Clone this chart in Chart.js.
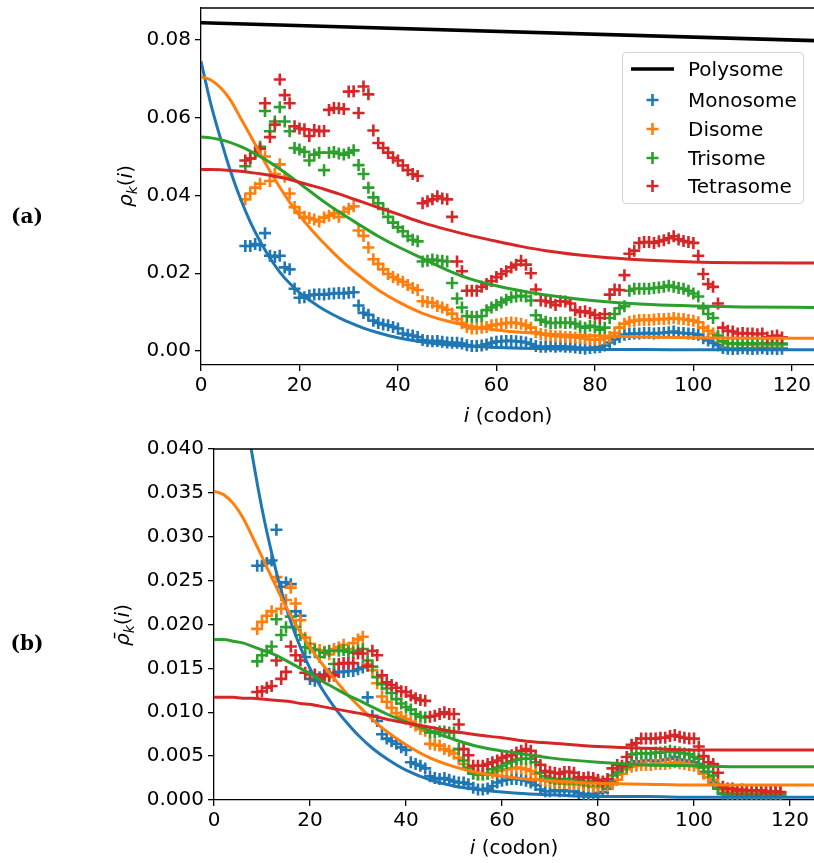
<!DOCTYPE html>
<html>
<head>
<meta charset="utf-8">
<script src="https://cdn.jsdelivr.net/npm/chart.js@4.4.1/dist/chart.umd.min.js"></script>
<style>
  body { margin: 0; background: #fff; width: 814px; height: 863px; position: relative; overflow: hidden; font-family: 'DejaVu Sans', sans-serif; }
  canvas { position: absolute; left: 0; }
  .lbl { position: absolute; transform: translate(-50%, -50%); font-size: 20px; white-space: nowrap; color: #000; }
  .rot { transform: translate(-50%, -50%) rotate(-90deg); }
  .tag { font-family: 'DejaVu Serif', serif; font-weight: bold; }
  .legend { position: absolute; left: 622px; top: 52px; width: 182px; height: 152px; box-sizing: border-box;
            border: 1px solid #d3d3d3; border-radius: 4px; background: rgba(255,255,255,0.8); }
  .legend .row { position: absolute; left: 0; height: 24px; width: 180px; }
  .legend svg { position: absolute; left: 6px; top: 0; }
  .legend span { position: absolute; left: 65px; top: 50%; transform: translateY(-50%); font-size: 20px; }
  sub { font-size: 14px; }
</style>
</head>
<body>
<canvas id="chartA" width="814" height="430" style="top:0"></canvas>
<canvas id="chartB" width="814" height="433" style="top:430px"></canvas>

<div class="lbl tag" style="left:27px; top:216px">(a)</div>
<div class="lbl tag" style="left:27px; top:643px">(b)</div>
<div class="lbl rot" style="left:126px; top:186px"><i>ρ</i><sub><i>k</i></sub>(<i>i</i>)</div>
<div class="lbl rot" style="left:123px; top:625px"><i>ρ̄</i><sub><i>k</i></sub>(<i>i</i>)</div>
<div class="lbl" style="left:508px; top:415px"><i>i</i> (codon)</div>
<div class="lbl" style="left:514px; top:847px"><i>i</i> (codon)</div>

<div class="legend">
  <div class="row" style="top:4px"><svg width="50" height="24"><line x1="2" y1="12" x2="45" y2="12" stroke="#000" stroke-width="3.6"/></svg><span>Polysome</span></div>
  <div class="row" style="top:35px"><svg width="50" height="24"><path d="M23.5 6V18M17.5 12H29.5" stroke="#1f77b4" stroke-width="2.6"/></svg><span>Monosome</span></div>
  <div class="row" style="top:64px"><svg width="50" height="24"><path d="M23.5 6V18M17.5 12H29.5" stroke="#ff7f0e" stroke-width="2.6"/></svg><span>Disome</span></div>
  <div class="row" style="top:93px"><svg width="50" height="24"><path d="M23.5 6V18M17.5 12H29.5" stroke="#2ca02c" stroke-width="2.6"/></svg><span>Trisome</span></div>
  <div class="row" style="top:121px"><svg width="50" height="24"><path d="M23.5 6V18M17.5 12H29.5" stroke="#d62728" stroke-width="2.6"/></svg><span>Tetrasome</span></div>
</div>

<script>
// codon positions of the measured points
const codons = [
  9, 10, 11, 12, 13, 14, 15, 16, 17, 18,
  19, 20, 21, 22, 23, 24, 25, 26, 27, 28,
  29, 30, 31, 32, 33, 34, 35, 36, 37, 38,
  39, 40, 41, 42, 43, 44, 45, 46, 47, 48,
  49, 50, 51, 52, 53, 54, 55, 56, 57, 58,
  59, 60, 61, 62, 63, 64, 65, 66, 67, 68,
  69, 70, 71, 72, 73, 74, 75, 76, 77, 78,
  79, 80, 81, 82, 83, 84, 85, 86, 87, 88,
  89, 90, 91, 92, 93, 94, 95, 96, 97, 98,
  99, 100, 101, 102, 103, 104, 105, 106, 107, 108,
  109, 110, 111, 112, 113, 114, 115, 116, 117, 118
];

// panel (a): rho_k(i)
const monoA = [
  0.0270, 0.0270, 0.0275, 0.0272, 0.0303, 0.0245, 0.0242, 0.0245, 0.0215, 0.0210,
  0.0160, 0.0137, 0.0138, 0.0143, 0.0145, 0.0146, 0.0145, 0.0147, 0.0148, 0.0149,
  0.0148, 0.0150, 0.0151, 0.0117, 0.0098, 0.0093, 0.0078, 0.0072, 0.0068, 0.0066,
  0.0062, 0.0058, 0.0045, 0.0042, 0.0040, 0.0036, 0.0028, 0.0026, 0.0025, 0.0026,
  0.0024, 0.0022, 0.0021, 0.0021, 0.0019, 0.0015, 0.0013, 0.0013, 0.0014, 0.0017,
  0.0021, 0.0024, 0.0025, 0.0026, 0.0026, 0.0025, 0.0024, 0.0022, 0.0018, 0.0013,
  0.0011, 0.0011, 0.0012, 0.0011, 0.0012, 0.0011, 0.0011, 0.0009, 0.0008, 0.0006,
  0.0008, 0.0009, 0.0010, 0.0014, 0.0022, 0.0030, 0.0036, 0.0042, 0.0044, 0.0045,
  0.0045, 0.0046, 0.0046, 0.0045, 0.0046, 0.0047, 0.0048, 0.0050, 0.0047, 0.0046,
  0.0045, 0.0044, 0.0042, 0.0033, 0.0027, 0.0021, 0.0015, 0.0008, 0.0006, 0.0005,
  0.0006, 0.0007, 0.0006, 0.0005, 0.0006, 0.0007, 0.0005, 0.0006, 0.0005, 0.0006
];
const diA = [
  0.0390, 0.0405, 0.0420, 0.0430, 0.0500, 0.0437, 0.0455, 0.0480, 0.0448, 0.0405,
  0.0370, 0.0355, 0.0345, 0.0342, 0.0338, 0.0333, 0.0343, 0.0348, 0.0354, 0.0345,
  0.0358, 0.0366, 0.0372, 0.0310, 0.0296, 0.0266, 0.0236, 0.0224, 0.0210, 0.0198,
  0.0190, 0.0184, 0.0178, 0.0170, 0.0162, 0.0157, 0.0128, 0.0126, 0.0124, 0.0116,
  0.0112, 0.0106, 0.0096, 0.0082, 0.0072, 0.0062, 0.0058, 0.0058, 0.0060, 0.0062,
  0.0066, 0.0068, 0.0070, 0.0072, 0.0073, 0.0072, 0.0070, 0.0066, 0.0060, 0.0048,
  0.0044, 0.0042, 0.0040, 0.0038, 0.0038, 0.0036, 0.0036, 0.0035, 0.0034, 0.0032,
  0.0030, 0.0030, 0.0030, 0.0032, 0.0036, 0.0046, 0.0060, 0.0070, 0.0075, 0.0078,
  0.0080, 0.0080, 0.0080, 0.0081, 0.0082, 0.0082, 0.0083, 0.0085, 0.0083, 0.0082,
  0.0080, 0.0078, 0.0074, 0.0060, 0.0052, 0.0045, 0.0036, 0.0024, 0.0020, 0.0018,
  0.0018, 0.0016, 0.0017, 0.0016, 0.0015, 0.0016, 0.0015, 0.0016, 0.0015, 0.0016
];
const triA = [
  0.0475, 0.0495, 0.0510, 0.0525, 0.0617, 0.0565, 0.0590, 0.0627, 0.0590, 0.0565,
  0.0522, 0.0518, 0.0512, 0.0490, 0.0505, 0.0510, 0.0465, 0.0510, 0.0512, 0.0508,
  0.0505, 0.0510, 0.0516, 0.0478, 0.0455, 0.0420, 0.0395, 0.0380, 0.0365, 0.0345,
  0.0330, 0.0318, 0.0308, 0.0295, 0.0286, 0.0282, 0.0230, 0.0232, 0.0235, 0.0233,
  0.0232, 0.0230, 0.0175, 0.0135, 0.0112, 0.0090, 0.0088, 0.0088, 0.0090, 0.0105,
  0.0112, 0.0118, 0.0125, 0.0132, 0.0138, 0.0140, 0.0142, 0.0140, 0.0130, 0.0092,
  0.0080, 0.0075, 0.0072, 0.0072, 0.0073, 0.0072, 0.0073, 0.0070, 0.0063, 0.0060,
  0.0065, 0.0062, 0.0055, 0.0060, 0.0085, 0.0095, 0.0110, 0.0115, 0.0155, 0.0160,
  0.0160, 0.0160, 0.0160, 0.0162, 0.0163, 0.0165, 0.0168, 0.0165, 0.0162, 0.0160,
  0.0155, 0.0148, 0.0140, 0.0110, 0.0095, 0.0085, 0.0040, 0.0025, 0.0020, 0.0020,
  0.0019, 0.0020, 0.0020, 0.0019, 0.0020, 0.0020, 0.0019, 0.0020, 0.0020, 0.0019
];
const tetraA = [
  0.0490, 0.0495, 0.0510, 0.0520, 0.0637, 0.0550, 0.0582, 0.0698, 0.0658, 0.0637,
  0.0578, 0.0572, 0.0570, 0.0553, 0.0568, 0.0565, 0.0566, 0.0620, 0.0625, 0.0624,
  0.0622, 0.0667, 0.0668, 0.0612, 0.0680, 0.0660, 0.0567, 0.0535, 0.0522, 0.0510,
  0.0497, 0.0490, 0.0477, 0.0465, 0.0455, 0.0450, 0.0380, 0.0385, 0.0390, 0.0398,
  0.0392, 0.0390, 0.0345, 0.0230, 0.0205, 0.0155, 0.0155, 0.0155, 0.0165, 0.0172,
  0.0180, 0.0190, 0.0198, 0.0205, 0.0215, 0.0222, 0.0232, 0.0222, 0.0200, 0.0158,
  0.0130, 0.0128, 0.0125, 0.0118, 0.0128, 0.0127, 0.0122, 0.0105, 0.0100, 0.0102,
  0.0098, 0.0093, 0.0085, 0.0095, 0.0145, 0.0158, 0.0157, 0.0195, 0.0250, 0.0258,
  0.0278, 0.0280, 0.0280, 0.0278, 0.0282, 0.0285, 0.0290, 0.0295, 0.0287, 0.0283,
  0.0280, 0.0278, 0.0245, 0.0198, 0.0172, 0.0165, 0.0122, 0.0060, 0.0052, 0.0050,
  0.0045, 0.0046, 0.0045, 0.0045, 0.0043, 0.0045, 0.0035, 0.0038, 0.0040, 0.0035
];

// panel (b): rho-bar_k(i)
const monoB = [
  0.0267, 0.0267, 0.0270, 0.0273, 0.0308, 0.0243, 0.0248, 0.0246, 0.0215, 0.0210,
  0.0163, 0.0138, 0.0136, 0.0140, 0.0143, 0.0144, 0.0145, 0.0146, 0.0146, 0.0147,
  0.0147, 0.0149, 0.0151, 0.0117, 0.0096, 0.0090, 0.0075, 0.0070, 0.0067, 0.0064,
  0.0060, 0.0057, 0.0043, 0.0041, 0.0039, 0.0036, 0.0027, 0.0025, 0.0024, 0.0025,
  0.0023, 0.0021, 0.0020, 0.0020, 0.0018, 0.0014, 0.0012, 0.0012, 0.0013, 0.0016,
  0.0020, 0.0022, 0.0023, 0.0024, 0.0024, 0.0023, 0.0022, 0.0020, 0.0017, 0.0012,
  0.0010, 0.0010, 0.0011, 0.0010, 0.0011, 0.0010, 0.0010, 0.0008, 0.0007, 0.0005,
  0.0007, 0.0008, 0.0009, 0.0013, 0.0021, 0.0029, 0.0035, 0.0041, 0.0043, 0.0044,
  0.0044, 0.0045, 0.0045, 0.0044, 0.0045, 0.0046, 0.0047, 0.0049, 0.0046, 0.0045,
  0.0044, 0.0043, 0.0041, 0.0032, 0.0026, 0.0020, 0.0014, 0.0007, 0.0005, 0.0004,
  0.0005, 0.0006, 0.0005, 0.0004, 0.0005, 0.0006, 0.0004, 0.0005, 0.0004, 0.0005
];
const diB = [
  0.0195, 0.0203, 0.0210, 0.0215, 0.0254, 0.0218, 0.0228, 0.0242, 0.0224, 0.0205,
  0.0185, 0.0178, 0.0172, 0.0171, 0.0169, 0.0166, 0.0172, 0.0174, 0.0177, 0.0172,
  0.0179, 0.0183, 0.0186, 0.0155, 0.0148, 0.0133, 0.0118, 0.0112, 0.0105, 0.0099,
  0.0095, 0.0092, 0.0089, 0.0085, 0.0081, 0.0079, 0.0064, 0.0063, 0.0062, 0.0058,
  0.0056, 0.0053, 0.0048, 0.0041, 0.0036, 0.0031, 0.0029, 0.0029, 0.0030, 0.0031,
  0.0033, 0.0034, 0.0035, 0.0036, 0.0037, 0.0036, 0.0035, 0.0033, 0.0030, 0.0024,
  0.0022, 0.0021, 0.0020, 0.0019, 0.0019, 0.0018, 0.0018, 0.0018, 0.0017, 0.0016,
  0.0015, 0.0015, 0.0015, 0.0016, 0.0018, 0.0023, 0.0030, 0.0035, 0.0038, 0.0039,
  0.0040, 0.0040, 0.0040, 0.0041, 0.0041, 0.0041, 0.0042, 0.0043, 0.0042, 0.0041,
  0.0040, 0.0039, 0.0037, 0.0030, 0.0026, 0.0023, 0.0018, 0.0012, 0.0010, 0.0009,
  0.0009, 0.0008, 0.0009, 0.0008, 0.0008, 0.0008, 0.0008, 0.0008, 0.0008, 0.0008
];
const triB = [
  0.0158, 0.0165, 0.0170, 0.0175, 0.0206, 0.0188, 0.0197, 0.0209, 0.0197, 0.0188,
  0.0174, 0.0173, 0.0171, 0.0163, 0.0168, 0.0170, 0.0155, 0.0170, 0.0171, 0.0169,
  0.0168, 0.0170, 0.0172, 0.0159, 0.0152, 0.0140, 0.0132, 0.0127, 0.0122, 0.0115,
  0.0110, 0.0106, 0.0103, 0.0098, 0.0095, 0.0094, 0.0077, 0.0077, 0.0078, 0.0078,
  0.0077, 0.0077, 0.0058, 0.0045, 0.0037, 0.0030, 0.0029, 0.0029, 0.0030, 0.0035,
  0.0037, 0.0039, 0.0042, 0.0044, 0.0046, 0.0047, 0.0047, 0.0047, 0.0043, 0.0031,
  0.0027, 0.0025, 0.0024, 0.0024, 0.0024, 0.0024, 0.0024, 0.0023, 0.0021, 0.0020,
  0.0022, 0.0021, 0.0018, 0.0020, 0.0028, 0.0032, 0.0037, 0.0038, 0.0052, 0.0053,
  0.0053, 0.0053, 0.0053, 0.0054, 0.0054, 0.0055, 0.0056, 0.0055, 0.0054, 0.0053,
  0.0052, 0.0049, 0.0047, 0.0037, 0.0032, 0.0028, 0.0013, 0.0008, 0.0007, 0.0007,
  0.0006, 0.0007, 0.0007, 0.0006, 0.0007, 0.0007, 0.0006, 0.0007, 0.0007, 0.0006
];
const tetraB = [
  0.0123, 0.0124, 0.0128, 0.0130, 0.0159, 0.0138, 0.0146, 0.0175, 0.0165, 0.0159,
  0.0145, 0.0143, 0.0143, 0.0138, 0.0142, 0.0141, 0.0142, 0.0155, 0.0156, 0.0156,
  0.0156, 0.0167, 0.0167, 0.0153, 0.0170, 0.0165, 0.0142, 0.0134, 0.0131, 0.0128,
  0.0124, 0.0123, 0.0119, 0.0116, 0.0114, 0.0113, 0.0095, 0.0096, 0.0098, 0.0100,
  0.0098, 0.0098, 0.0086, 0.0058, 0.0051, 0.0039, 0.0039, 0.0039, 0.0041, 0.0043,
  0.0045, 0.0048, 0.0050, 0.0051, 0.0054, 0.0056, 0.0058, 0.0056, 0.0050, 0.0040,
  0.0033, 0.0032, 0.0031, 0.0030, 0.0032, 0.0032, 0.0031, 0.0026, 0.0025, 0.0026,
  0.0025, 0.0023, 0.0021, 0.0024, 0.0036, 0.0040, 0.0039, 0.0049, 0.0063, 0.0065,
  0.0070, 0.0070, 0.0070, 0.0070, 0.0071, 0.0071, 0.0073, 0.0074, 0.0072, 0.0071,
  0.0070, 0.0070, 0.0061, 0.0050, 0.0043, 0.0041, 0.0031, 0.0015, 0.0013, 0.0013,
  0.0011, 0.0012, 0.0011, 0.0011, 0.0011, 0.0011, 0.0009, 0.0010, 0.0010, 0.0009
];

// fitted curves, sampled along i
const fitX = [0, 2, 4, 6, 8, 10, 12, 14, 16, 18, 20, 22, 24, 26, 28, 30, 33, 36, 40, 45, 50, 55, 60, 65, 70, 80, 90, 100, 110, 125];
const monoFitA = [0.0745, 0.0635, 0.0545, 0.0462, 0.0392, 0.0332, 0.0282, 0.0239, 0.0203, 0.0174, 0.0150, 0.0131, 0.0114, 0.0099, 0.0086, 0.0074, 0.0059, 0.0047, 0.0034, 0.0023, 0.0016, 0.0012, 0.0009, 0.0007, 0.0006, 0.0004, 0.0004, 0.0003, 0.0003, 0.0003];
const diFitA = [0.0705, 0.0697, 0.0677, 0.0645, 0.0600, 0.0555, 0.0508, 0.0463, 0.0421, 0.0383, 0.0349, 0.0318, 0.0290, 0.0264, 0.0239, 0.0216, 0.0185, 0.0157, 0.0127, 0.0097, 0.0077, 0.0063, 0.0054, 0.0048, 0.0044, 0.0039, 0.0036, 0.0034, 0.0033, 0.0033];
const triFitA = [0.0550, 0.0548, 0.0543, 0.0536, 0.0526, 0.0514, 0.0500, 0.0485, 0.0468, 0.0450, 0.0431, 0.0412, 0.0393, 0.0375, 0.0358, 0.0342, 0.0318, 0.0295, 0.0268, 0.0238, 0.0208, 0.0184, 0.0168, 0.0155, 0.0144, 0.0129, 0.0120, 0.0116, 0.0113, 0.0112];
const tetraFitA = [0.0467, 0.0467, 0.0466, 0.0464, 0.0462, 0.0459, 0.0456, 0.0452, 0.0447, 0.0441, 0.0434, 0.0427, 0.0420, 0.0412, 0.0404, 0.0395, 0.0382, 0.0369, 0.0352, 0.0330, 0.0312, 0.0296, 0.0282, 0.0269, 0.0258, 0.0243, 0.0234, 0.0229, 0.0227, 0.0226];
const monoFitB = [0.0745, 0.0635, 0.0545, 0.0462, 0.0392, 0.0332, 0.0282, 0.0239, 0.0203, 0.0174, 0.0150, 0.0131, 0.0114, 0.0099, 0.0086, 0.0074, 0.0059, 0.0047, 0.0034, 0.0023, 0.0016, 0.0012, 0.0009, 0.0007, 0.0006, 0.0004, 0.0004, 0.0003, 0.0003, 0.0003];
const diFitB = [0.0352, 0.0348, 0.0338, 0.0322, 0.0300, 0.0277, 0.0254, 0.0231, 0.0210, 0.0191, 0.0174, 0.0159, 0.0145, 0.0132, 0.0119, 0.0108, 0.0092, 0.0078, 0.0063, 0.0048, 0.0038, 0.0031, 0.0027, 0.0024, 0.0022, 0.0019, 0.0018, 0.0017, 0.0017, 0.0017];
const triFitB = [0.0183, 0.0183, 0.0181, 0.0179, 0.0175, 0.0171, 0.0167, 0.0162, 0.0156, 0.0150, 0.0144, 0.0137, 0.0131, 0.0125, 0.0119, 0.0114, 0.0106, 0.0098, 0.0089, 0.0079, 0.0069, 0.0061, 0.0056, 0.0052, 0.0048, 0.0043, 0.0040, 0.0039, 0.0038, 0.0038];
const tetraFitB = [0.0117, 0.0117, 0.0117, 0.0116, 0.0116, 0.0115, 0.0114, 0.0113, 0.0112, 0.0110, 0.0109, 0.0107, 0.0105, 0.0103, 0.0101, 0.0099, 0.0096, 0.0092, 0.0088, 0.0083, 0.0078, 0.0074, 0.0071, 0.0067, 0.0065, 0.0061, 0.0059, 0.0057, 0.0057, 0.0057];

const polyX = [0, 125];
const polyA = [0.0844, 0.0798];

const xTicks = [0, 20, 40, 60, 80, 100, 120];
const yTicksA = [0, 0.02, 0.04, 0.06, 0.08];
const yTicksB = [0, 0.005, 0.010, 0.015, 0.020, 0.025, 0.030, 0.035, 0.040];

const colors = { mono: '#1f77b4', di: '#ff7f0e', tri: '#2ca02c', tetra: '#d62728' };

Chart.defaults.font.family = "'DejaVu Sans', sans-serif";
Chart.defaults.font.size = 20;
Chart.defaults.color = '#000';

function pts(xs, ys) {
  return xs.map((x, j) => ({ x: x, y: ys[j] }));
}

function curve(xs, ys, color, order, width) {
  return {
    data: pts(xs, ys), showLine: true, borderColor: color, borderWidth: width || 3,
    pointRadius: 0, cubicInterpolationMode: 'monotone', fill: false, order: order
  };
}

function crosses(ys, color, order) {
  return {
    data: pts(codons, ys), showLine: false, pointStyle: 'cross', pointRadius: 6,
    pointBorderWidth: 2.6, pointBorderColor: color, pointBackgroundColor: color, order: order
  };
}

// top spine of the axes frame
const topSpine = {
  id: 'topSpine',
  afterDraw(chart) {
    const a = chart.chartArea, ctx = chart.ctx;
    ctx.save();
    ctx.strokeStyle = '#000';
    ctx.lineWidth = 1.3;
    ctx.beginPath();
    ctx.moveTo(a.left, a.top);
    ctx.lineTo(a.right, a.top);
    ctx.stroke();
    ctx.restore();
  }
};

function makeChart(id, cfg) {
  return new Chart(document.getElementById(id), {
    type: 'scatter',
    data: { datasets: cfg.datasets },
    options: {
      responsive: false,
      animation: false,
      devicePixelRatio: 1,
      events: [],
      layout: { autoPadding: false, padding: { top: cfg.top, left: 0, right: 0, bottom: 0 } },
      plugins: { legend: { display: false }, tooltip: { enabled: false } },
      scales: {
        x: {
          type: 'linear', min: 0, max: cfg.xMax,
          afterBuildTicks: s => { s.ticks = xTicks.map(v => ({ value: v })); },
          afterFit: s => { s.height = cfg.xHeight; s.paddingLeft = 0; s.paddingRight = 0; },
          ticks: { padding: 3, maxRotation: 0, callback: v => String(v) },
          grid: { drawOnChartArea: false, color: '#000', lineWidth: 1.3, tickLength: 6 },
          border: { color: '#000', width: 1.3 }
        },
        y: {
          type: 'linear', min: cfg.yMin, max: cfg.yMax,
          afterBuildTicks: s => { s.ticks = cfg.yTicks.map(v => ({ value: v })); },
          afterFit: s => { s.width = cfg.yWidth; s.paddingTop = 0; s.paddingBottom = 0; },
          ticks: { padding: 4, callback: v => v.toFixed(cfg.digits) },
          grid: { drawOnChartArea: false, color: '#000', lineWidth: 1.3, tickLength: 6 },
          border: { color: '#000', width: 1.3 }
        }
      }
    },
    plugins: [topSpine]
  });
}

makeChart('chartA', {
  top: 8, xMax: 124.5, xHeight: 65, yMin: -0.0036, yMax: 0.0882, yWidth: 201,
  yTicks: yTicksA, digits: 2,
  datasets: [
    crosses(monoA, colors.mono, 9),
    crosses(diA, colors.di, 8),
    crosses(triA, colors.tri, 7),
    crosses(tetraA, colors.tetra, 6),
    curve(polyX, polyA, '#000', 5, 3.6),
    curve(fitX, monoFitA, colors.mono, 4),
    curve(fitX, diFitA, colors.di, 3),
    curve(fitX, triFitA, colors.tri, 2),
    curve(fitX, tetraFitA, colors.tetra, 1)
  ]
});

makeChart('chartB', {
  top: 19, xMax: 125, xHeight: 63, yMin: 0, yMax: 0.04, yWidth: 214,
  yTicks: yTicksB, digits: 3,
  datasets: [
    crosses(monoB, colors.mono, 9),
    crosses(diB, colors.di, 8),
    crosses(triB, colors.tri, 7),
    crosses(tetraB, colors.tetra, 6),
    curve(fitX, monoFitB, colors.mono, 4),
    curve(fitX, diFitB, colors.di, 3),
    curve(fitX, triFitB, colors.tri, 2),
    curve(fitX, tetraFitB, colors.tetra, 1)
  ]
});
</script>
</body>
</html>
